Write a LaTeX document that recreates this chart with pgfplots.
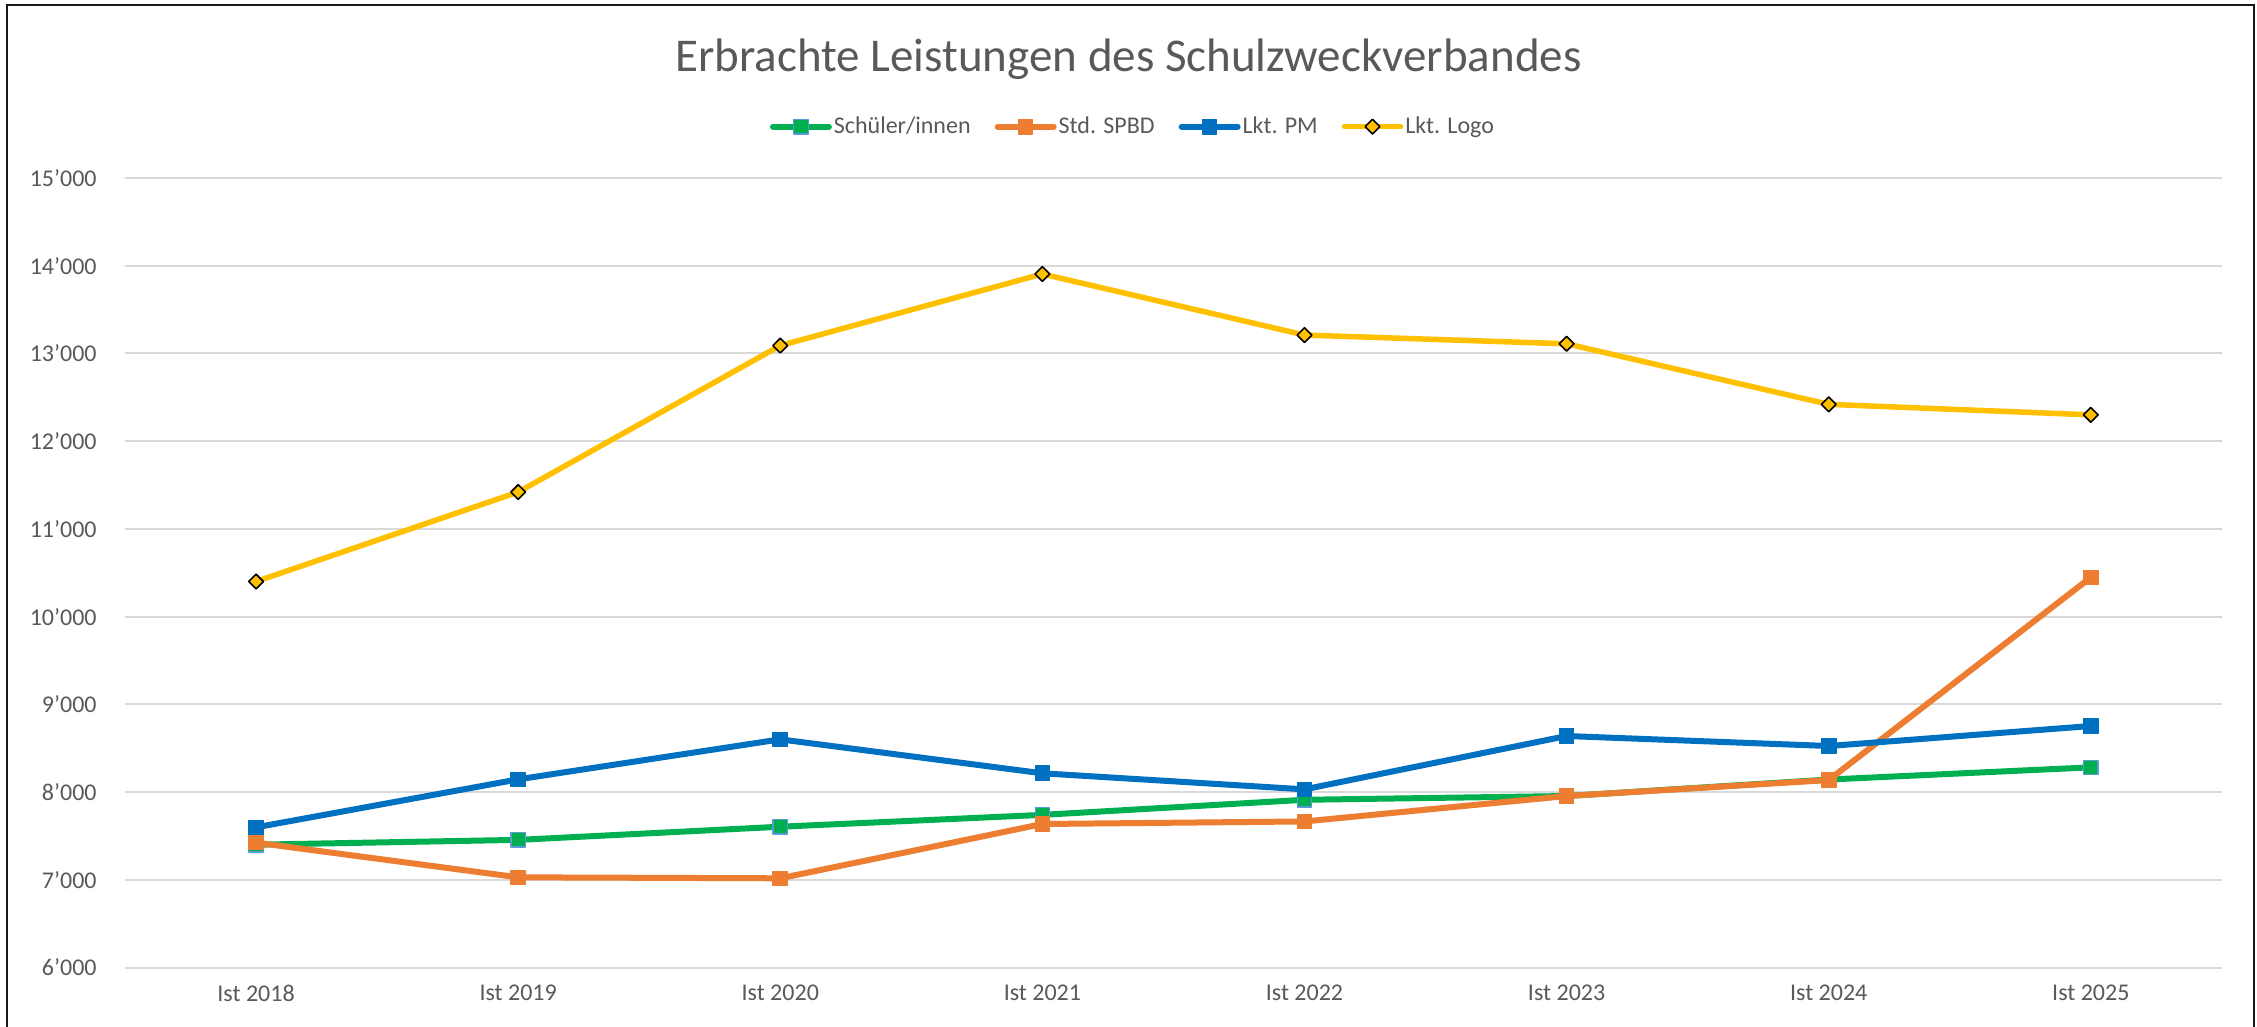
\documentclass[border=0pt]{standalone}
\usepackage{fontspec}
\setmainfont{Carlito}
\usepackage{pgfplots}
\pgfplotsset{compat=1.18}
\definecolor{cgreen}{HTML}{00B050}
\definecolor{corange}{HTML}{ED7D31}
\definecolor{cblue}{HTML}{0070C0}
\definecolor{cyellow}{HTML}{FFC000}
\definecolor{ctext}{HTML}{595959}
\definecolor{cgrid}{HTML}{D9D9D9}
\definecolor{cmborder}{HTML}{5B9BD5}
\begin{document}
\begin{tikzpicture}
\path[use as bounding box] (0bp,0bp) rectangle (1128.5bp,-513.5bp);
\fill[white] (0bp,0bp) rectangle (1128.5bp,-513.5bp);
\draw[line width=1.2bp, color=black!90] (3.6bp,-530bp) -- (3.6bp,-2.5bp) -- (1127bp,-2.5bp) -- (1127bp,-530bp);
\node[anchor=base, text=ctext, font=\fontsize{23.5bp}{28bp}\selectfont, inner sep=0pt] at (564.25bp,-35.85bp) {Erbrachte Leistungen des Schulzweckverbandes};
\begin{axis}[
  at={(62.5bp,-483.75bp)}, anchor=south west,
  scale only axis, width=1048.5bp, height=394.75bp,
  xmin=-0.5, xmax=7.5, ymin=6000, ymax=15000,
  scaled y ticks=false,
  xtick={0,...,7},
  xticklabels={Ist 2018,Ist 2019,Ist 2020,Ist 2021,Ist 2022,Ist 2023,Ist 2024,Ist 2025},
  ytick={6000,7000,...,15000},
  yticklabels={6’000,7’000,8’000,9’000,10’000,11’000,12’000,13’000,14’000,15’000},
  ymajorgrids, grid style={color=cgrid, line width=1bp},
  axis line style={draw=none},
  major tick length=0pt,
  tick style={draw=none},
  xticklabel style={anchor=north, inner sep=0pt, yshift=-8.75bp, text=ctext, font=\fontsize{12bp}{14bp}\selectfont},
  yticklabel style={anchor=east, inner sep=0pt, xshift=-14bp, text=ctext, font=\fontsize{12bp}{14bp}\selectfont},
  clip=false,
  legend columns=4,
  legend style={at={(0.4807,1.065)}, anchor=center, draw=none, fill=none,
    font=\fontsize{12bp}{14bp}\selectfont, text=ctext,
    /tikz/every even column/.append style={column sep=11bp},
    nodes={inner sep=1bp}},
  legend image code/.code={\draw[mark repeat=2,mark phase=2,#1] plot coordinates {(0bp,0bp) (14bp,0bp) (28bp,0bp)};},
  every axis plot/.append style={line width=3bp, line cap=round, line join=round},
]
\addplot[color=cgreen, mark=square*, mark size=3.6bp, mark options={fill=cgreen, draw=cmborder, line width=0.6bp}]
  coordinates {(0,7400) (1,7455) (2,7605) (3,7740) (4,7912) (5,7955) (6,8143) (7,8282)};
\addlegendentry{Schüler/innen}
\addplot[color=corange, mark=square*, mark size=3.6bp, mark options={fill=corange, draw=corange, line width=0.6bp}]
  coordinates {(0,7423) (1,7028) (2,7017) (3,7636) (4,7665) (5,7955) (6,8137) (7,10448)};
\addlegendentry{Std. SPBD}
\addplot[color=cblue, mark=square*, mark size=3.6bp, mark options={fill=cblue, draw=cblue, line width=0.6bp}]
  coordinates {(0,7598) (1,8145) (2,8601) (3,8214) (4,8031) (5,8639) (6,8525) (7,8753)};
\addlegendentry{Lkt. PM}
\addplot[color=cyellow, line width=2.75bp, mark=square*, mark size=2.6bp, mark options={fill=cyellow, draw=black, line width=0.8bp, rotate=45}]
  coordinates {(0,10400) (1,11420) (2,13090) (3,13906) (4,13210) (5,13110) (6,12420) (7,12300)};
\addlegendentry{Lkt. Logo}
\end{axis}
\end{tikzpicture}
\end{document}
